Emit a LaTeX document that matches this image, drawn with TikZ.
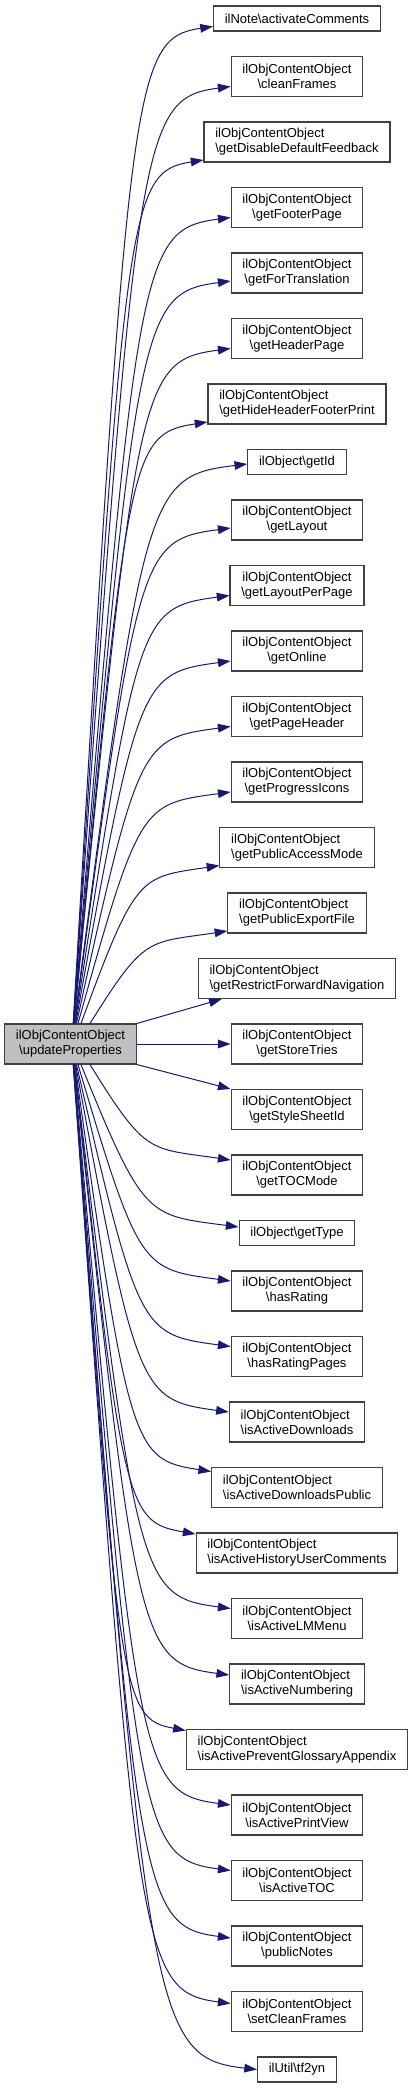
\documentclass[tikz,border=0pt]{standalone}
\usepackage{fontspec}
\setmainfont{Liberation Sans}
\usetikzlibrary{arrows.meta}
\definecolor{callblue}{HTML}{191970}
\newcommand{\cls}{ilObjContentObject\\\textbackslash}

\begin{document}
\begin{tikzpicture}[x=0.75pt,y=-0.75pt,
    func/.style={draw=black!75,line width=0.8pt,fill=white,minimum height=30pt,inner xsep=8.5pt,inner ysep=2pt,align=center,font=\fontsize{9.75}{11.25}\selectfont},
    funcl/.style={func,align=left},
    func1/.style={func,minimum height=18.75pt},
    curfn/.style={func,fill=black!25},
    callarrow/.style={-{Triangle[length=9.5pt,width=6.5pt]},line width=0.75pt,draw=callblue}
  ]
    \useasboundingbox (0,0) rectangle (415,2088);

    % caller
    \node[curfn] (src) at (70.5,1044) {\cls updateProperties};

    % callees, top to bottom
    \node[func1] (t1) at (297,18.5) {ilNote\textbackslash activateComments};
    \node[func] (t2) at (297,76.5) {\cls cleanFrames};
    \node[funcl] (t3) at (297,142) {\cls getDisableDefaultFeedback};
    \node[func] (t4) at (297,207.5) {\cls getFooterPage};
    \node[func] (t5) at (297,273) {\cls getForTranslation};
    \node[func] (t6) at (297,338.5) {\cls getHeaderPage};
    \node[funcl] (t7) at (297,404) {\cls getHideHeaderFooterPrint};
    \node[func1] (t8) at (297,462) {ilObject\textbackslash getId};
    \node[func] (t9) at (297,520) {\cls getLayout};
    \node[func] (t10) at (297,585.5) {\cls getLayoutPerPage};
    \node[func] (t11) at (297,651) {\cls getOnline};
    \node[func] (t12) at (297,716.5) {\cls getPageHeader};
    \node[func] (t13) at (297,782) {\cls getProgressIcons};
    \node[funcl] (t14) at (297,847.5) {\cls getPublicAccessMode};
    \node[funcl] (t15) at (297,913) {\cls getPublicExportFile};
    \node[funcl] (t16) at (297,978.5) {\cls getRestrictForwardNavigation};
    \node[func] (t17) at (297,1044) {\cls getStoreTries};
    \node[func] (t18) at (297,1109.5) {\cls getStyleSheetId};
    \node[func] (t19) at (297,1175) {\cls getTOCMode};
    \node[func1] (t20) at (297,1233) {ilObject\textbackslash getType};
    \node[func] (t21) at (297,1291) {\cls hasRating};
    \node[func] (t22) at (297,1356.5) {\cls hasRatingPages};
    \node[funcl] (t23) at (297,1422) {\cls isActiveDownloads};
    \node[funcl] (t24) at (297,1487.5) {\cls isActiveDownloadsPublic};
    \node[funcl] (t25) at (297,1553) {\cls isActiveHistoryUserComments};
    \node[func] (t26) at (297,1618.5) {\cls isActiveLMMenu};
    \node[funcl] (t27) at (297,1684) {\cls isActiveNumbering};
    \node[funcl] (t28) at (297,1749.5) {\cls isActivePreventGlossaryAppendix};
    \node[func] (t29) at (297,1815) {\cls isActivePrintView};
    \node[func] (t30) at (297,1880.5) {\cls isActiveTOC};
    \node[func] (t31) at (297,1946) {\cls publicNotes};
    \node[func] (t32) at (297,2011.5) {\cls setCleanFrames};
    \node[func1] (t33) at (297,2069.5) {ilUtil\textbackslash tf2yn};

    % calls going up
    \foreach \n/\k/\xl/\yc/\off in {t1/15/212/18.5/8, t2/14/231/76.5/10, t3/13/204/142/18,
        t4/12/231/207.5/10, t5/11/231/273/8, t6/10/231/338.5/10, t7/9/208/404/18,
        t8/8/247/462/2, t9/7/231/520/8, t10/6/231/585.5/10, t11/5/231/651/10,
        t12/4/231/716.5/10, t13/3/231/782/10, t14/2/219/847.5/18, t15/1/228/913/18} {
      \pgfmathsetmacro\sx{72+18/\k}
      \pgfmathsetmacro\dx{\xl-\sx}
      \pgfmathsetmacro\dy{1024-\yc-\off}
      \draw[callarrow] ([shift={(\sx-70.5,0)}]src.north) .. controls +(0.4*\dx,-0.95*\dy) and +(-0.58*\dx,12) .. ([shift={(0,\off)}]\n.west);
    }

    % calls straight across
    \draw[callarrow] (src.north east) -- ([shift={(24,0)}]t16.south west);
    \draw[callarrow] (src.east) -- (t17.west);
    \draw[callarrow] (src.south east) -- (t18.north west);

    % calls going down
    \foreach \n/\k/\xl/\yc/\off in {t19/1/231/1175/-15, t20/2/238/1233/-6, t21/3/231/1291/-10,
        t22/4/231/1356.5/-10, t23/5/228/1422/-10, t24/6/209/1487.5/-16, t25/7/193/1553/-19,
        t26/8/231/1618.5/-10, t27/9/229/1684/-9, t28/10/185/1749.5/-19, t29/11/231/1815/-10,
        t30/12/231/1880.5/-10, t31/13/231/1946/-8, t32/14/231/2011.5/-8, t33/15/256/2069.5/0} {
      \pgfmathsetmacro\sx{72+18/\k}
      \pgfmathsetmacro\dx{\xl-\sx}
      \pgfmathsetmacro\dy{\yc+\off-1064}
      \draw[callarrow] ([shift={(\sx-70.5,0)}]src.south) .. controls +(0.4*\dx,0.95*\dy) and +(-0.58*\dx,-12) .. ([shift={(0,\off)}]\n.west);
    }
\end{tikzpicture}
\end{document}
